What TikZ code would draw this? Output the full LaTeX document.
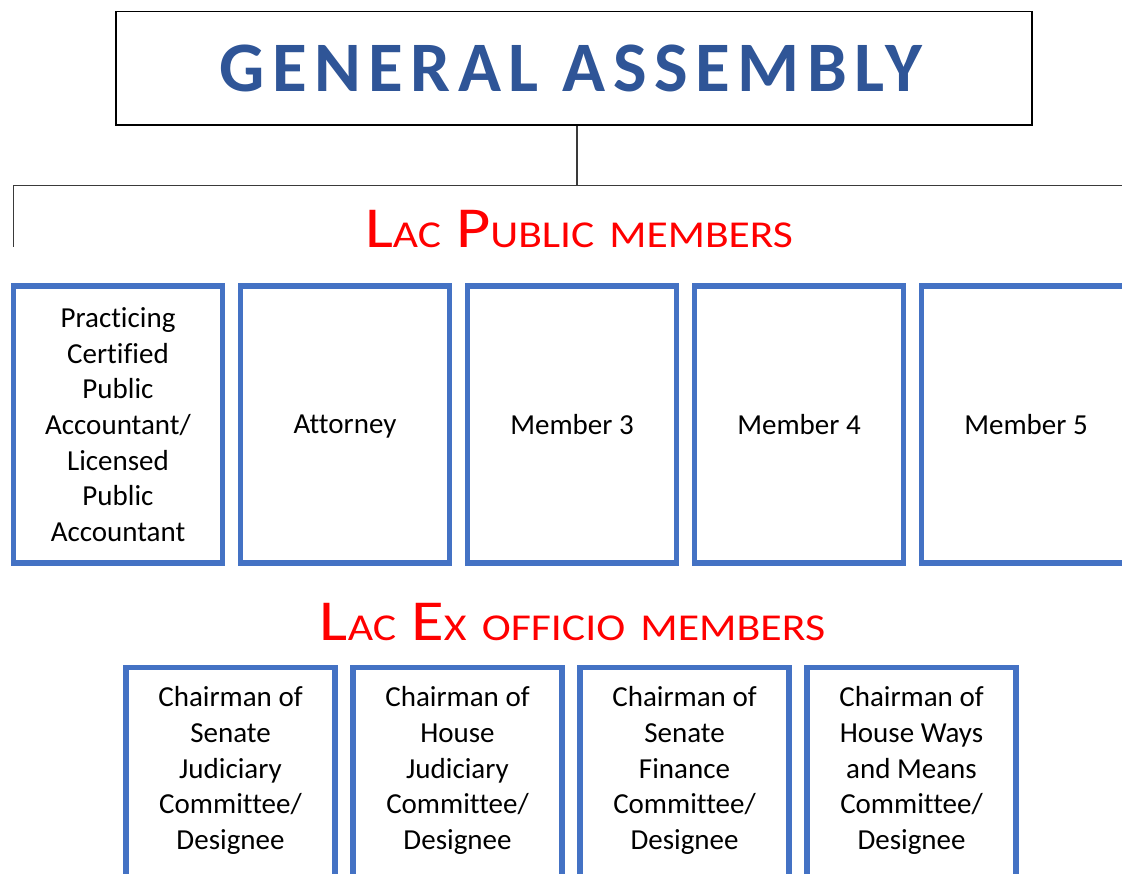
\documentclass[tikz,border=0pt]{standalone}
\usepackage{fontspec}
\usepackage{graphicx}
\setmainfont{Carlito}[Ligatures=NoCommon]
\newfontfamily\gafont{Carlito}[LetterSpace=10.6,Ligatures=NoCommon]
\definecolor{boxblue}{HTML}{4472C4}
\definecolor{gablue}{HTML}{2F5597}
\definecolor{linegray}{HTML}{3A3A3A}
\newcommand{\smc}[1]{{\fontsize{38}{38}\selectfont #1}}
\begin{document}
\begin{tikzpicture}[x=1pt,y=-1pt,
  gabox/.style={draw=black,line width=1.5pt,minimum width=916pt,minimum height=113.5pt,inner sep=0pt,
    text=gablue,font=\gafont\bfseries\fontsize{71}{71}\selectfont},
  conn/.style={draw=linegray,line width=1.4pt},
  pubbox/.style={draw=boxblue,line width=5.3pt,minimum width=209pt,minimum height=277pt,inner sep=0pt,
    align=center,text depth=0pt,font=\fontsize{29}{35.7}\selectfont},
  exbox/.style={draw=boxblue,line width=5.3pt,minimum width=209pt,minimum height=260pt,inner sep=0pt,anchor=north},
  extext/.style={align=center,text depth=0pt,font=\fontsize{29}{35.7}\selectfont,inner sep=0pt},
  grouptitle/.style={text=red,anchor=base,inner sep=0pt,font=\fontsize{58}{58}\selectfont}]
\useasboundingbox (0,0) rectangle (1122,873);
\clip (0,0) rectangle (1122,873);
% top box
\node[gabox] (ga) at (574,68.3) {\hspace*{-6pt}GENERAL ASSEMBLY};
% connectors
\coordinate (bus) at (577,185.7);
\coordinate (busL) at (13.5,185.7);
\coordinate (busR) at (1130,185.7);
\coordinate (drop) at (13.5,246.5);
\draw[conn] (bus |- ga.south) -- (bus);
\draw[conn] (busR) -- (busL) -- (drop);
% titles
\node[grouptitle] (pubt) at (579,247.3) {\scalebox{1.145}[1]{L\smc{AC} P\smc{UBLIC} \smc{MEMBERS}}};
\node[grouptitle] (ext) at (572.5,640) {\scalebox{1.152}[1]{L\smc{AC} E\smc{X} \smc{OFFICIO} \smc{MEMBERS}}};
% public members
\node[pubbox] (p1) at (118,424.5) {Practicing\\Certified\\Public\\Accountant/\\Licensed\\Public\\Accountant};
\node[pubbox] (p2) at (345,424.5) {Attorney};
\node[pubbox] (p3) at (572,424.5) {Member 3};
\node[pubbox] (p4) at (799,424.5) {Member 4};
\node[pubbox] (p5) at (1026,424.5) {Member 5};
% ex officio members
\node[exbox] (e1b) at (230.5,664.5) {};
\node[exbox] (e2b) at (457.5,664.5) {};
\node[exbox] (e3b) at (684.5,664.5) {};
\node[exbox] (e4b) at (911.5,664.5) {};
\node[extext] (e1) at (230.5,768) {Chairman of\\Senate\\Judiciary\\Committee/\\Designee};
\node[extext] (e2) at (457.5,768) {Chairman of\\House\\Judiciary\\Committee/\\Designee};
\node[extext] (e3) at (684.5,768) {Chairman of\\Senate\\Finance\\Committee/\\Designee};
\node[extext] (e4) at (911.5,768) {Chairman of\\House Ways\\and Means\\Committee/\\Designee};
\end{tikzpicture}
\end{document}
